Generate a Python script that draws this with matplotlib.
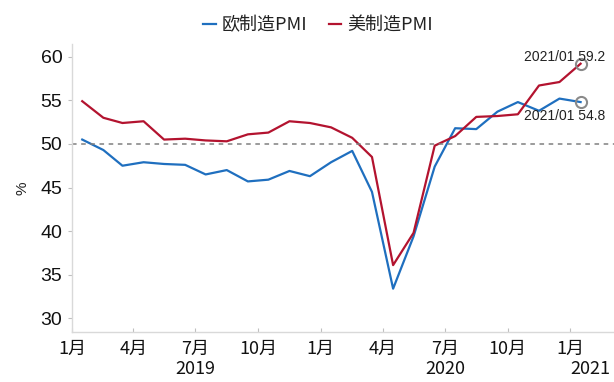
import matplotlib
matplotlib.use("Agg")
import matplotlib.pyplot as plt
import matplotlib.transforms as mtransforms
import datetime as dt

plt.rcParams['font.family'] = ['Liberation Sans', 'Noto Sans CJK SC', 'DejaVu Sans']
CJK = ['Noto Sans CJK SC', 'DejaVu Sans']

# Monthly manufacturing PMI, Jan 2019 - Jan 2021
months = [dt.date(2019 + (i // 12), i % 12 + 1, 16) for i in range(25)]
eu_pmi = [50.5, 49.3, 47.5, 47.9, 47.7, 47.6, 46.5, 47.0, 45.7, 45.9, 46.9, 46.3,
          47.9, 49.2, 44.5, 33.4, 39.4, 47.4, 51.8, 51.7, 53.7, 54.8, 53.8, 55.2,
          54.8]
us_pmi = [54.9, 53.0, 52.4, 52.6, 50.5, 50.6, 50.4, 50.3, 51.1, 51.3, 52.6, 52.4,
          51.9, 50.7, 48.5, 36.1, 39.8, 49.8, 50.9, 53.1, 53.2, 53.4, 56.7, 57.1,
          59.2]
series_names = ['欧制造PMI', '美制造PMI']
tick_dates = [dt.date(2019 + (i // 4), (i % 4) * 3 + 1, 1) for i in range(9)]
tick_labels = ['1月', '4月', '7月', '10月'] * 2 + ['1月']
year_labels = ['2019', '2020', '2021']
year_pos = [dt.date(2019, 7, 1), dt.date(2020, 7, 1), dt.date(2021, 1, 1)]
year_ha = ['center', 'center', 'left']
last_label = '2021/01'

blue = '#1f6fbf'
red = '#b3132f'
axis_gray = '#d9d9d9'

fig = plt.figure(figsize=(6.14, 3.82), dpi=100)
ax = fig.add_axes([72 / 614, 1 - 332 / 382, 1 - 72 / 614, (332 - 44) / 382])

ax.plot(months, eu_pmi, color=blue, lw=1.6, label=series_names[0])
ax.plot(months, us_pmi, color=red, lw=1.6, label=series_names[1])
ax.axhline(50, color='#808080', lw=1.1, ls=(0, (3, 3)))

# Latest-value markers and labels
for vals, dy in ((us_pmi, 7), (eu_pmi, -14)):
    ax.plot(months[-1], vals[-1], 'o', ms=8, mfc='none', mec='#8a8a8a', mew=1.5)
    ax.annotate(f'{last_label} {vals[-1]:.1f}', xy=(months[-1], vals[-1]),
                xytext=(-16, dy), textcoords='offset pixels',
                ha='center', va='center', fontsize=10, color='#222222')

ax.set_xlim(dt.date(2019, 1, 1), dt.date(2021, 3, 6))
ax.set_ylim(28.43, 61.46)
ax.set_yticks([30, 35, 40, 45, 50, 55, 60])
ax.tick_params(axis='y', direction='out', length=3, color='#bfbfbf',
               labelsize=14, pad=4, labelcolor='#111111')
ax.set_xticks(tick_dates)
ax.set_xticklabels(tick_labels, fontfamily=CJK, fontsize=13, color='#111111')
ax.tick_params(axis='x', direction='in', length=3, color='#bfbfbf', pad=6)

for side in ('top', 'right'):
    ax.spines[side].set_visible(False)
for side in ('left', 'bottom'):
    ax.spines[side].set_color(axis_gray)
    ax.spines[side].set_linewidth(1.0)

ax.set_ylabel('%', fontsize=11, labelpad=2, color='#222222')
ax.yaxis.set_label_coords(-0.078, 0.5)

trans = mtransforms.blended_transform_factory(ax.transData, fig.transFigure)
for lbl, pos, ha in zip(year_labels, year_pos, year_ha):
    ax.text(pos, 1 - 369 / 382, lbl, transform=trans, ha=ha, va='center',
            fontfamily=CJK, fontsize=13, color='#111111')

leg = fig.legend(loc='center', bbox_to_anchor=(318 / 614, 1 - 25 / 382), ncol=2,
                 frameon=False, handlelength=0.7, handletextpad=0.3,
                 columnspacing=1.2, prop={'family': CJK, 'size': 13})
for t in leg.get_texts():
    t.set_color('#222222')

fig.savefig('out.png', dpi=100)
